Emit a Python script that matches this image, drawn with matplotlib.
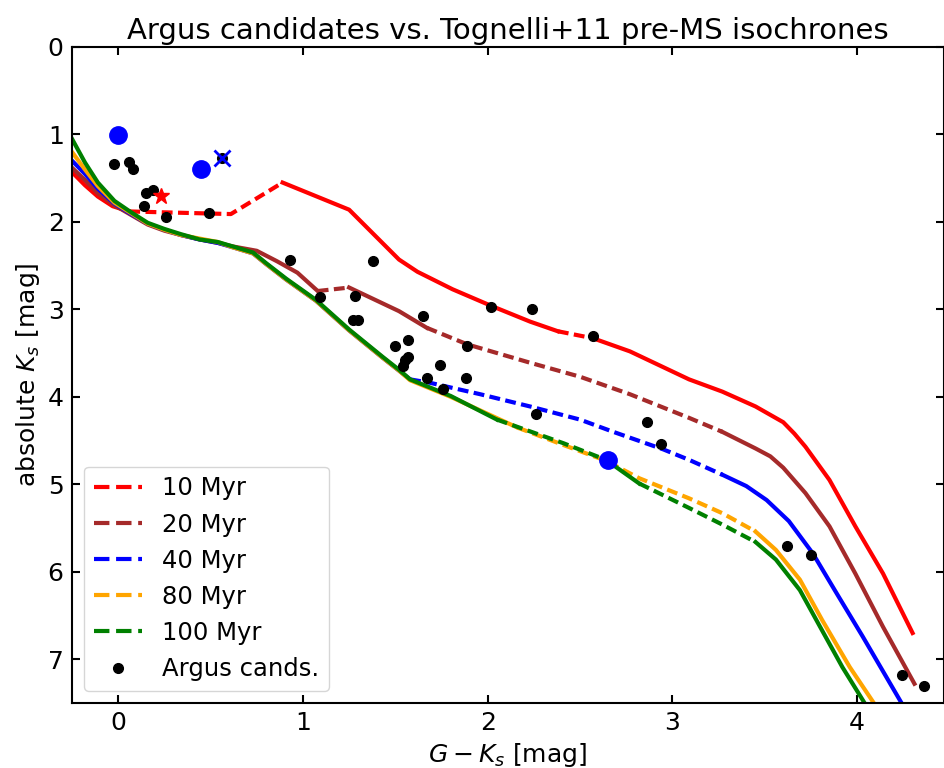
import matplotlib
matplotlib.use('Agg')
import matplotlib.pyplot as plt
from matplotlib.lines import Line2D

# Tognelli+11 isochrones: G-K_s colour and absolute K_s
iso10_x = [-0.25, -0.18, -0.11, -0.03, 0.06, 0.61, 0.89, 1.25, 1.52, 1.62, 1.81, 2.02,
           2.23, 2.38, 2.57, 2.77, 3.09, 3.27, 3.45, 3.60, 3.66, 3.72, 3.85, 3.99, 4.14,
           4.30]
iso10_y = [1.43, 1.58, 1.71, 1.82, 1.88, 1.91, 1.55, 1.86, 2.43, 2.57, 2.77, 2.96,
           3.14, 3.25, 3.33, 3.48, 3.80, 3.94, 4.11, 4.29, 4.42, 4.57, 4.95, 5.48, 6.02,
           6.70]
iso10_dash = [(4, 6), (13, 14)]

iso20_x = [-0.25, -0.18, -0.11, -0.02, 0.07, 0.16, 0.25, 0.34, 0.44, 0.54, 0.62, 0.75,
           0.86, 0.97, 1.08, 1.25, 1.42, 1.52, 1.67, 1.89, 2.23, 2.50, 2.77, 3.09, 3.27,
           3.45, 3.53, 3.60, 3.72, 3.85, 3.99, 4.14, 4.31]
iso20_y = [1.38, 1.52, 1.67, 1.81, 1.92, 2.03, 2.10, 2.15, 2.20, 2.24, 2.28, 2.33,
           2.45, 2.58, 2.79, 2.75, 2.92, 3.02, 3.21, 3.40, 3.61, 3.77, 3.97, 4.24, 4.40,
           4.59, 4.68, 4.81, 5.10, 5.48, 6.02, 6.63, 7.28]
iso20_dash = [(14, 15), (18, 24)]

iso40_x = [-0.25, -0.18, -0.11, -0.02, 0.07, 0.16, 0.25, 0.34, 0.44, 0.54, 0.62, 0.73,
           0.80, 0.91, 1.07, 1.25, 1.43, 1.52, 1.58, 1.69, 1.96, 2.23, 2.50, 2.68, 2.95,
           3.09, 3.27, 3.40, 3.51, 3.63, 3.76, 3.89, 4.03, 4.24]
iso40_y = [1.30, 1.45, 1.62, 1.79, 1.91, 2.02, 2.09, 2.15, 2.20, 2.24, 2.29, 2.36,
           2.48, 2.66, 2.90, 3.24, 3.55, 3.70, 3.80, 3.84, 3.97, 4.11, 4.26, 4.40, 4.60,
           4.72, 4.89, 5.02, 5.18, 5.42, 5.79, 6.25, 6.74, 7.50]
iso40_dash = [(18, 26)]

iso80_x = [-0.25, -0.18, -0.11, -0.02, 0.07, 0.16, 0.25, 0.34, 0.44, 0.54, 0.62, 0.73,
           0.80, 0.91, 1.07, 1.25, 1.43, 1.52, 1.58, 1.80, 2.16, 2.41, 2.64, 2.82, 3.09,
           3.27, 3.45, 3.56, 3.69, 3.81, 3.96, 4.09]
iso80_y = [1.20, 1.40, 1.59, 1.78, 1.90, 2.02, 2.09, 2.15, 2.19, 2.23, 2.29, 2.36,
           2.48, 2.66, 2.90, 3.24, 3.55, 3.70, 3.81, 4.00, 4.35, 4.55, 4.73, 4.93, 5.16,
           5.33, 5.54, 5.75, 6.09, 6.55, 7.09, 7.50]
iso80_dash = [(20, 26)]

iso100_x = [-0.25, -0.18, -0.11, -0.02, 0.07, 0.16, 0.25, 0.34, 0.44, 0.54, 0.62, 0.73,
            0.80, 0.91, 1.07, 1.25, 1.43, 1.52, 1.58, 1.80, 2.05, 2.41, 2.64, 2.82, 3.09,
            3.27, 3.45, 3.56, 3.69, 3.81, 3.92, 4.04]
iso100_y = [1.05, 1.32, 1.55, 1.76, 1.89, 2.01, 2.08, 2.14, 2.20, 2.23, 2.28, 2.35,
            2.47, 2.65, 2.89, 3.23, 3.54, 3.69, 3.80, 3.99, 4.26, 4.53, 4.72, 4.99, 5.27,
            5.46, 5.66, 5.86, 6.21, 6.67, 7.09, 7.50]
iso100_dash = [(20, 22), (23, 26)]

iso_labels = ['10 Myr', '20 Myr', '40 Myr', '80 Myr', '100 Myr']
iso_colors = ['red', 'brown', 'blue', 'orange', 'green']

# Argus candidates
cand_gk = [-0.02, 0.06, 0.08, 0.15, 0.19, 0.14, 0.26, 0.49, 0.56, 0.93, 1.09, 1.38,
           1.28, 1.27, 1.30, 1.65, 1.50, 1.57, 1.57, 1.55, 1.54, 1.74, 1.67, 1.88,
           1.76, 1.89, 2.02, 2.24, 2.26, 2.57, 2.86, 2.94, 3.62, 3.75, 4.24, 4.36]
cand_mk = [1.34, 1.32, 1.40, 1.67, 1.63, 1.82, 1.94, 1.90, 1.27, 2.44, 2.86, 2.45,
           2.85, 3.12, 3.12, 3.07, 3.42, 3.35, 3.54, 3.58, 3.65, 3.64, 3.79, 3.78,
           3.91, 3.42, 2.97, 2.99, 4.20, 3.30, 4.29, 4.54, 5.70, 5.81, 7.18, 7.30]

# highlighted objects
big_gk = [0.0, 0.45, 2.65]
big_mk = [1.01, 1.40, 4.72]
star_gk, star_mk = [0.23], [1.70]
cross_gk, cross_mk = [0.56], [1.27]

plt.rcParams['font.family'] = 'DejaVu Sans'
plt.rcParams['mathtext.fontset'] = 'dejavusans'

fig = plt.figure(figsize=(9.44, 7.68), dpi=100)
ax = fig.add_axes([72 / 944, 65 / 768, 872 / 944, 656 / 768])

isochrones = [(iso10_x, iso10_y, iso10_dash), (iso20_x, iso20_y, iso20_dash),
              (iso40_x, iso40_y, iso40_dash), (iso80_x, iso80_y, iso80_dash),
              (iso100_x, iso100_y, iso100_dash)]

for (x, y, dash), col in zip(isochrones, iso_colors):
    # split each isochrone at the ends of its dashed stretches
    edges = sorted({0, len(x) - 1} | {i for r in dash for i in r})
    for a, b in zip(edges[:-1], edges[1:]):
        dashed = any(s <= a and b <= e for s, e in dash)
        ls = (0, (2.6, 1.3)) if dashed else '-'
        ax.plot(x[a:b + 1], y[a:b + 1], color=col, lw=3, ls=ls)

ax.plot(cand_gk, cand_mk, 'o', color='black', ms=7, zorder=3)
ax.plot(big_gk, big_mk, 'o', color='blue', ms=12.5, zorder=4)
ax.plot(star_gk, star_mk, '*', color='red', ms=12, zorder=4)
ax.plot(cross_gk, cross_mk, 'x', color='blue', ms=11, mew=2, zorder=4)

handles = [Line2D([], [], color=c, lw=3, ls='--') for c in iso_colors]
handles.append(Line2D([], [], color='black', marker='o', ls='none', ms=7))
ax.legend(handles, iso_labels + ['Argus cands.'], loc='lower left', fontsize=17.5)

ax.set_xlim(-0.25, 4.47)
ax.set_ylim(7.5, 0)
ax.tick_params(direction='in', top=True, right=True, length=6, width=1.5,
               labelsize=18, pad=6)
for sp in ax.spines.values():
    sp.set_linewidth(1.5)

ax.set_xlabel('$G - K_s$ [mag]', fontsize=18)
ax.set_ylabel('absolute $K_s$ [mag]', fontsize=18)
ax.set_title('Argus candidates vs. Tognelli+11 pre-MS isochrones', fontsize=21)

fig.savefig('out.png', dpi=100)
